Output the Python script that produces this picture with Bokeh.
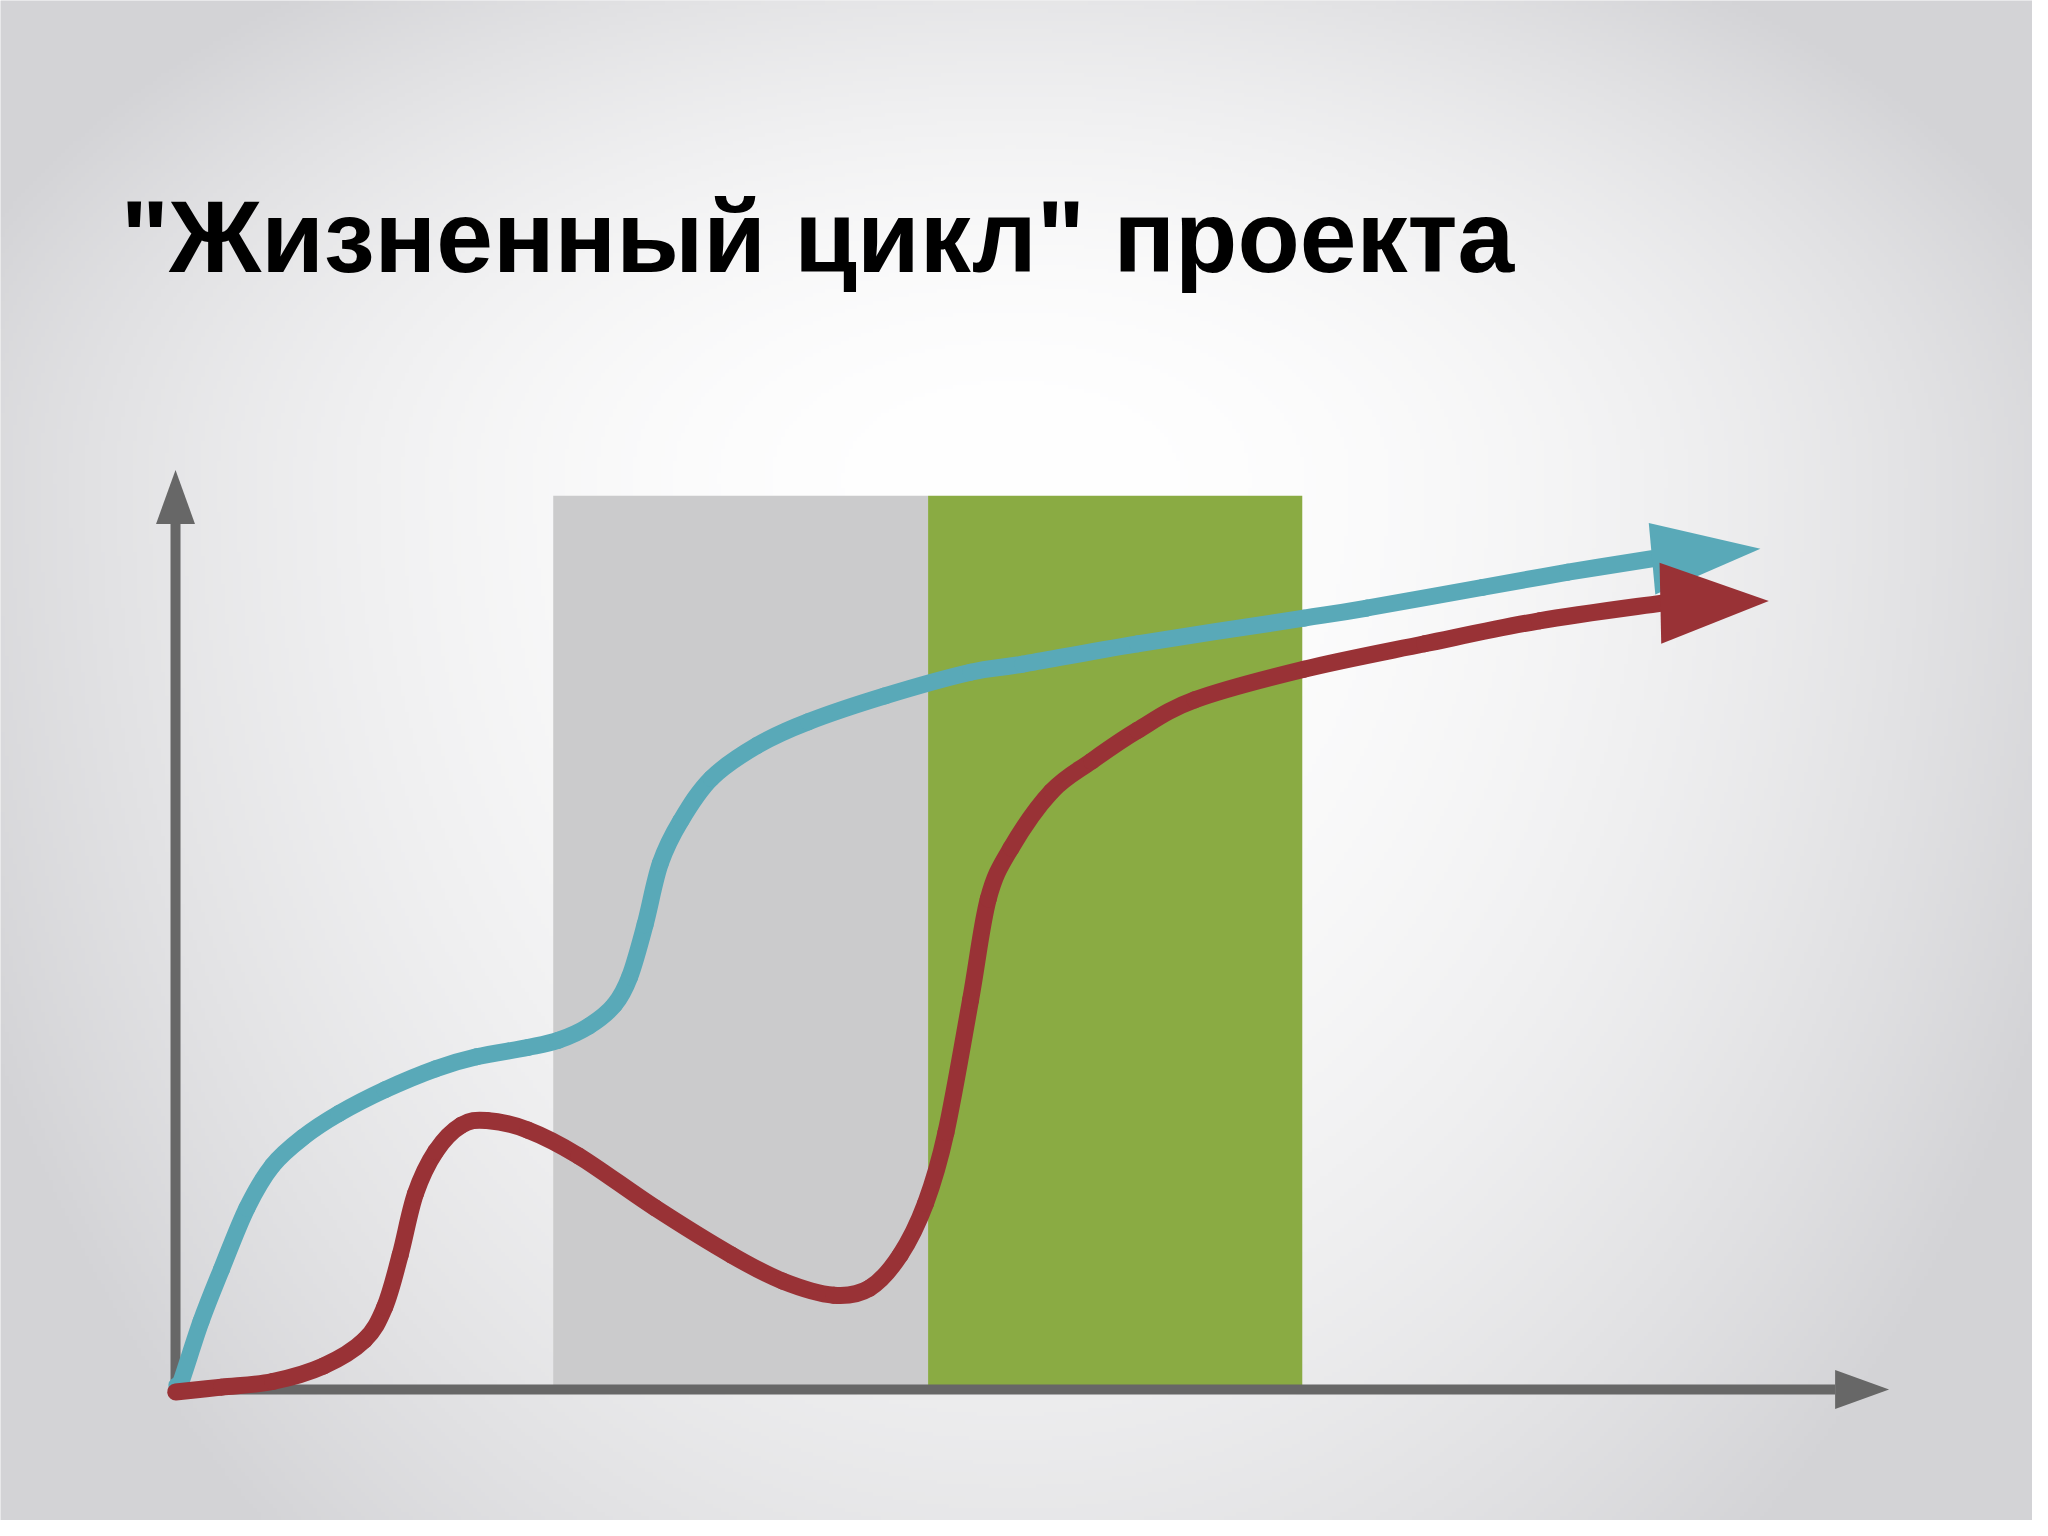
import numpy as np
from bokeh.plotting import figure
from bokeh.models import Range1d
from bokeh.core.properties import value
from bokeh.embed import file_html
from bokeh.resources import INLINE

# ---------------- data ----------------
title_text = '"Жизненный цикл" проекта'

# project phases (shaded bands)
phase_names = ["phase 2", "phase 3"]
phase_start = [28.92, 57.62]
phase_end = [57.62, 86.27]
phase_top = [68.43, 68.43]
phase_colors = ["#cbcbcc", "#8aab43"]

# axes extents
x_axis_end = 131.2
y_axis_end = 70.4

# teal curve
teal_x = [0.10, 0.40, 1.96, 3.52, 5.47, 7.43, 9.78, 12.51, 16.02, 19.93, 23.05,
          26.96, 29.31, 31.65, 33.60, 34.78, 35.95, 37.12, 38.68, 41.02, 44.54,
          48.45, 54.31, 60.87, 64.87, 73.65, 86.40, 91.23, 100.03, 106.62, 113.05]
teal_y = [0.30, 0.54, 5.23, 9.20, 13.90, 17.15, 19.32, 21.13, 22.94, 24.56, 25.47,
          26.18, 26.73, 27.82, 29.44, 31.61, 35.58, 40.28, 43.53, 46.78, 49.31,
          51.12, 53.10, 54.91, 55.53, 57.09, 59.05, 59.83, 61.40, 62.57, 63.60]
teal_tip = (121.35, 64.36)

# red curve
red_x = [0.01, 3.52, 7.43, 11.33, 14.46, 16.02, 17.20, 18.37, 19.93, 21.88, 23.83,
         26.96, 30.87, 36.73, 42.58, 46.49, 50.40, 53.14, 55.48, 57.43, 58.99,
         60.87, 62.23, 63.98, 67.06, 70.14, 73.65, 78.05, 86.40, 95.63, 104.42, 113.69]
red_y = [-0.19, 0.18, 0.61, 1.80, 3.78, 6.32, 10.29, 14.98, 18.24, 20.23, 20.59,
         19.87, 17.88, 13.90, 10.29, 8.30, 7.22, 7.76, 10.29, 14.26, 19.68,
         29.80, 37.56, 41.47, 45.77, 48.11, 50.46, 52.80, 55.14, 57.09, 58.85, 60.19]
red_tip = (121.99, 60.36)

# ---------------- styles ----------------
TEAL = "#59a9b8"
RED = "#993236"
AXIS = "#676767"
X0, X1 = -13.40, 142.18
Y0, Y1 = -10.03, 106.34
W, H = 2032, 1520
CURVE_W = 17


def head(base, tip, half_w):
    bx, by = base
    tx, ty = tip
    d = np.array([tx - bx, ty - by], dtype=float)
    d /= np.hypot(*d)
    n = np.array([-d[1], d[0]])
    p1 = np.array([bx, by]) + n * half_w
    p2 = np.array([bx, by]) - n * half_w
    return [p1[0], tx, p2[0]], [p1[1], ty, p2[1]]


def smooth_segments(xs, ys):
    """Catmull-Rom through the read points, expressed as cubic Bezier segments."""
    P = np.column_stack([xs, ys]).astype(float)
    Pe = np.vstack([P[0], P, P[-1]])
    a = Pe[1:-2]
    b = Pe[2:-1]
    c0 = a + (Pe[2:-1] - Pe[0:-3]) / 6.0
    c1 = b - (Pe[3:] - Pe[1:-2]) / 6.0
    return dict(x0=a[:, 0], y0=a[:, 1], x1=b[:, 0], y1=b[:, 1],
                cx0=c0[:, 0], cy0=c0[:, 1], cx1=c1[:, 0], cy1=c1[:, 1])


p = figure(width=W, height=H, x_range=Range1d(X0, X1), y_range=Range1d(Y0, Y1),
           output_backend="svg", toolbar_location=None,
           x_axis_location=None, y_axis_location=None, min_border=0)
p.grid.visible = False
p.outline_line_color = None
p.background_fill_color = "#e2e2e3"
p.border_fill_color = "#e2e2e3"

# radial background gradient
ny, nx = 380, 508
gx = np.linspace(X0, X1, nx)
gy = np.linspace(Y0, Y1, ny)
GX, GY = np.meshgrid(gx, gy)
cx, cy = 64.0, 70.0
dx = (GX - cx) / 80.0
dy = np.where(GY > cy, (GY - cy) / 45.0, (cy - GY) / 102.0)
r2 = dx ** 2 + dy ** 2
drop = np.minimum(38 * r2, 44)
g = np.clip(255 - drop, 0, 255)
b = np.clip(255 - drop * 0.93, 0, 255)
img = np.empty((ny, nx), dtype=np.uint32)
view = img.view(dtype=np.uint8).reshape((ny, nx, 4))
view[:, :, 0] = g.astype(np.uint8)
view[:, :, 1] = g.astype(np.uint8)
view[:, :, 2] = b.astype(np.uint8)
view[:, :, 3] = 255
p.image_rgba(image=[img], x=X0, y=Y0, dw=X1 - X0, dh=Y1 - Y0)

# phase bands
p.quad(left=phase_start, right=phase_end, bottom=[0, 0], top=phase_top,
       fill_color=phase_colors, line_color=None)

# axes with arrowheads
ax_head_len = 4.13
ax_half_w = 1.49
p.line([0, 0], [-0.35, y_axis_end - ax_head_len], line_color=AXIS, line_width=10)
p.line([-0.35, x_axis_end - ax_head_len], [0, 0], line_color=AXIS, line_width=10)
hx, hy = head((0, y_axis_end - ax_head_len), (0, y_axis_end), ax_half_w)
p.patch(hx, hy, fill_color=AXIS, line_color=None)
hx, hy = head((x_axis_end - ax_head_len, 0), (x_axis_end, 0), ax_half_w)
p.patch(hx, hy, fill_color=AXIS, line_color=None)

# curves
p.bezier(line_color=TEAL, line_width=CURVE_W, line_cap="round",
         **smooth_segments(teal_x, teal_y))
hx, hy = head((teal_x[-1], teal_y[-1]), teal_tip, 2.75)
p.patch(hx, hy, fill_color=TEAL, line_color=None)

p.bezier(line_color=RED, line_width=CURVE_W, line_cap="round",
         **smooth_segments(red_x, red_y))
hx, hy = head((red_x[-1], red_y[-1]), red_tip, 3.1)
p.patch(hx, hy, fill_color=RED, line_color=None)

# title
p.text(x=[-4.2], y=[88.2], text=[title_text], text_font=value("Liberation Sans"),
       text_font_style="bold", text_font_size="102px", text_color="#000000",
       text_baseline="alphabetic", text_align="left")

open("out.html", "w").write(file_html(p, INLINE))
